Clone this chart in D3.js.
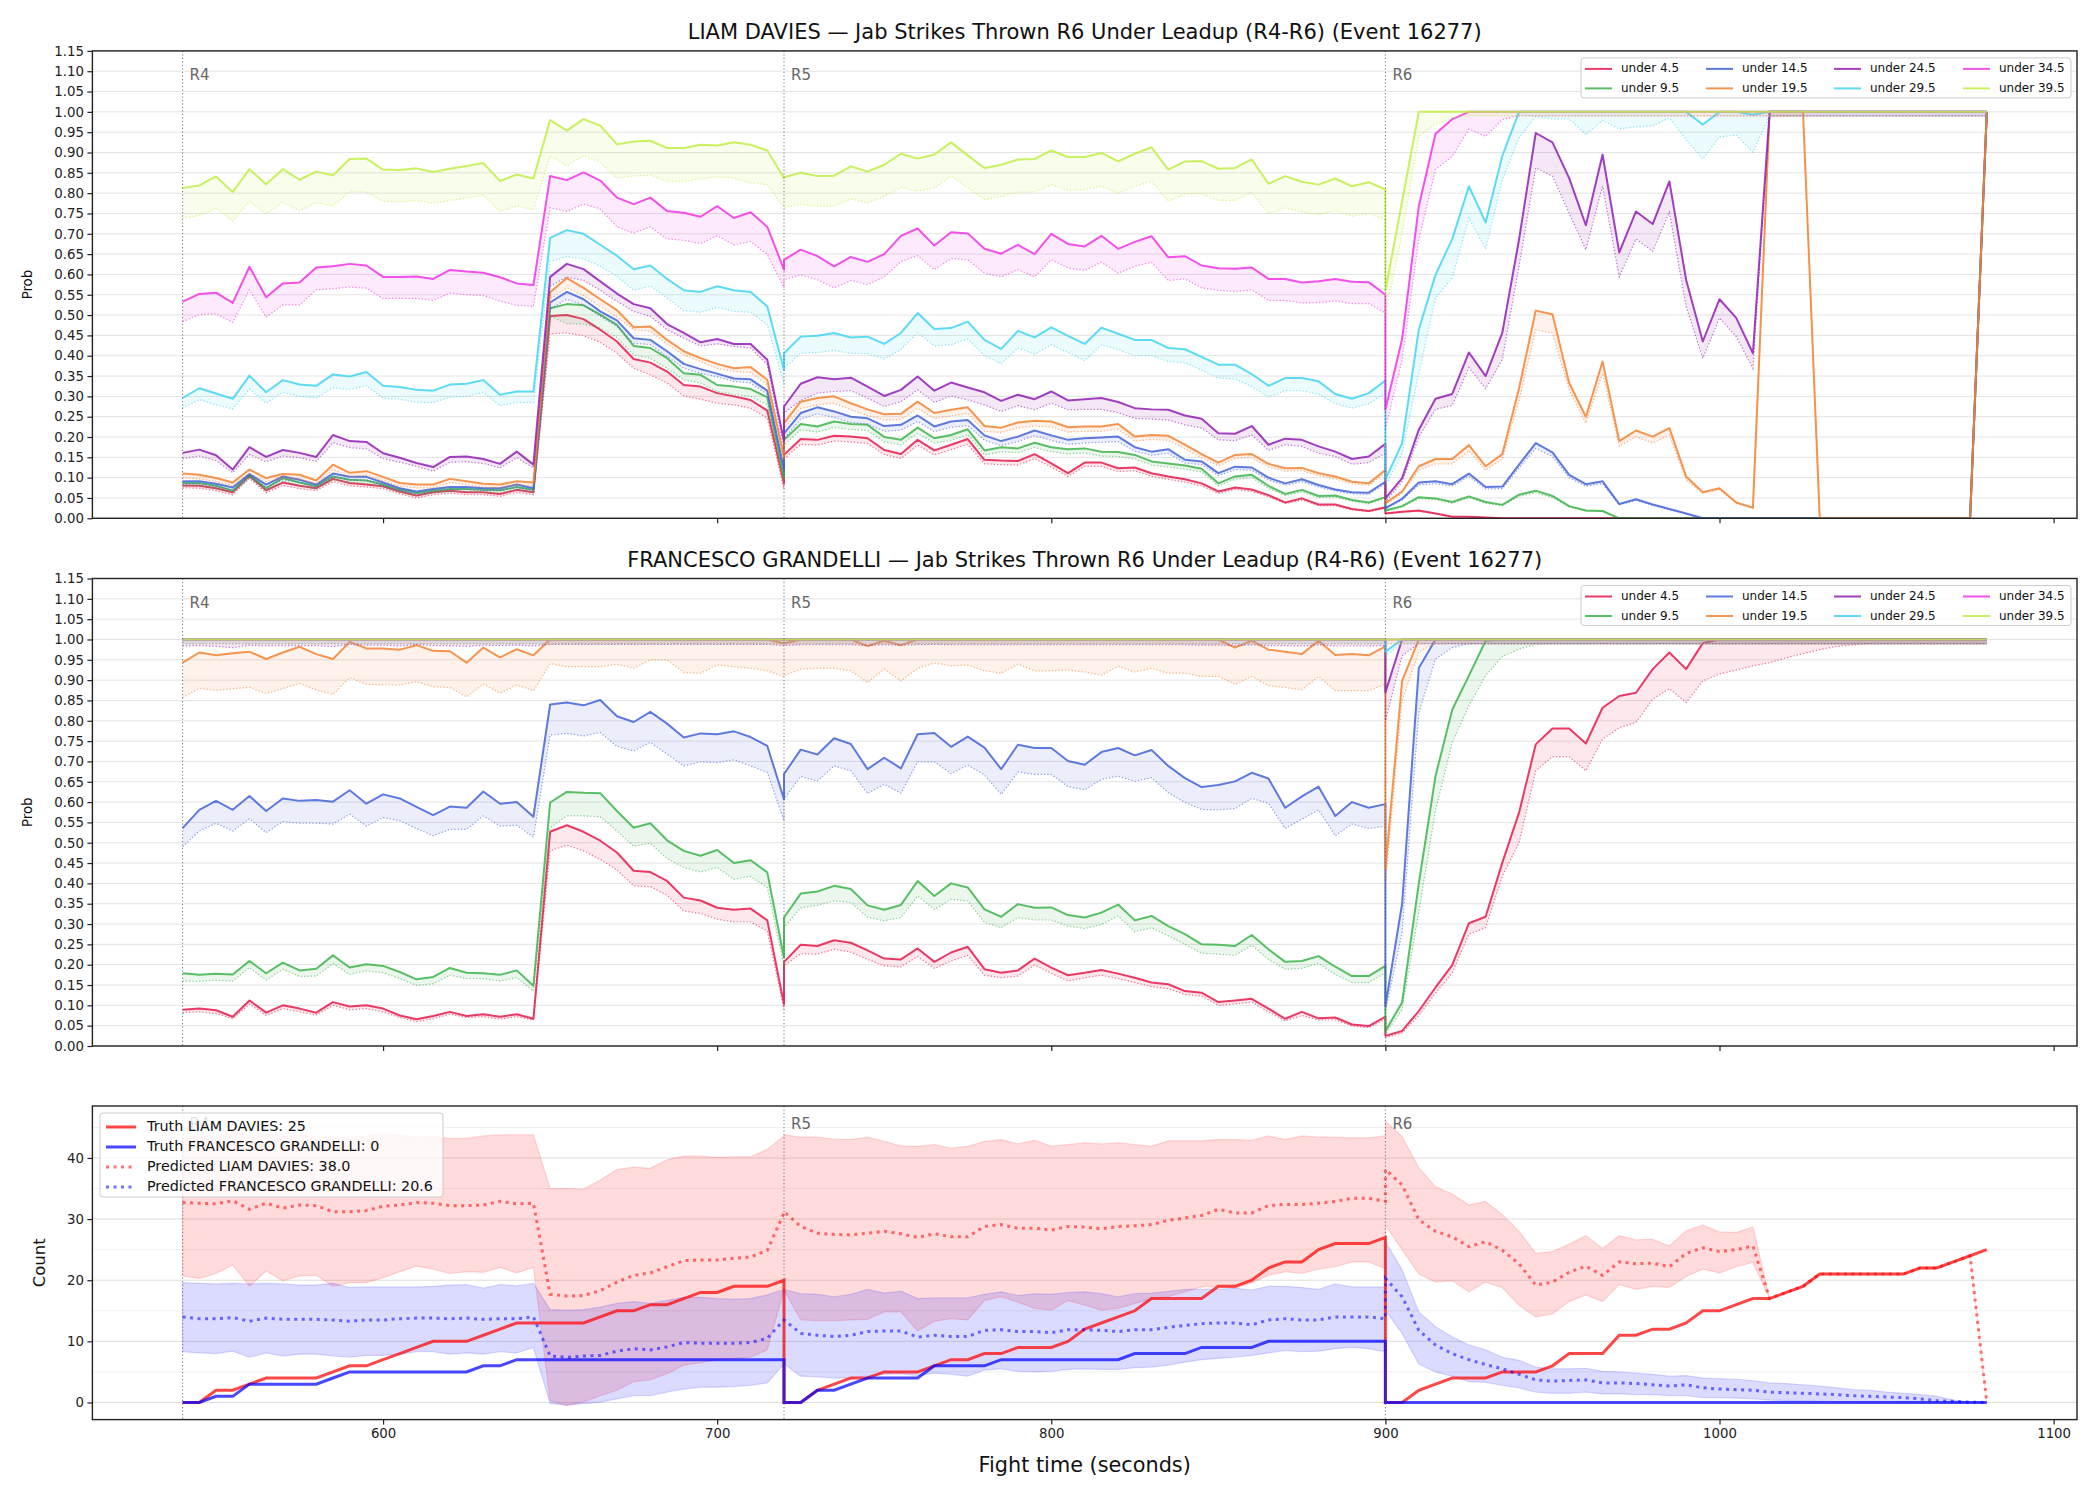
<!DOCTYPE html>
<html>
<head>
<meta charset="utf-8">
<script src="https://cdn.jsdelivr.net/npm/d3@7"></script>
<style>
  body { margin: 0; background: #fff; }
  svg text { font-family: "DejaVu Sans", sans-serif; }
</style>
</head>
<body>
<div id="wrapper"></div>
<script>
// ---- sample times: three rounds, every 5 s (round boundaries appear twice)
const times = [].concat(d3.range(540, 721, 5), d3.range(720, 901, 5), d3.range(900, 1081, 5));
const roundStarts = [540, 720, 900];
const roundLabels = ["R4", "R5", "R6"];
const thresholds = ["under 4.5", "under 9.5", "under 14.5", "under 19.5", "under 24.5", "under 29.5", "under 34.5", "under 39.5"];
const seriesColors = ["#e6194b", "#3cb44b", "#4363d8", "#f58231", "#911eb4", "#42d4f4", "#f032e6", "#bfef45"];
const probTicks = [0, 0.05, 0.1, 0.15, 0.2, 0.25, 0.3, 0.35, 0.4, 0.45, 0.5, 0.55, 0.6, 0.65, 0.7, 0.75, 0.8, 0.85, 0.9, 0.95, 1, 1.05, 1.1, 1.15];
const countTicks = [0, 10, 20, 30, 40];
const countMinorTicks = [5, 15, 25, 35, 45];
const timeTicks = [600, 700, 800, 900, 1000, 1100];

// ---- LIAM DAVIES: probability (solid) and lower estimate (dotted)
const daviesU4 = [
  0.081,0.080,0.074,0.064,0.105,0.069,0.088,0.080,0.074,0.097, 0.087,0.083,0.079,0.066,0.056,0.064,0.068,0.064,0.064,0.060,
  0.070,0.064,0.498,0.500,0.490,0.464,0.435,0.392,0.383,0.361, 0.328,0.324,0.308,0.300,0.291,0.265,0.086,
  0.156,0.195,0.193,0.203,0.201,0.197,0.168,0.158,0.193,0.167, 0.181,0.195,0.144,0.142,0.141,0.158,0.135,0.111,0.137,0.137,
  0.123,0.125,0.111,0.103,0.096,0.086,0.066,0.076,0.071,0.057, 0.039,0.049,0.034,0.034,0.023,0.018,0.027,
  0.012,0.016,0.019,0.012,0.004,0.004,0.002,0,0,0, 0,0,0,0,0,0,0,0,0,0, 0,0,0,0,0,0,0,0,0,0, 0,0,0,0,0,0,1];
const daviesU4Lo = [
  0.075,0.074,0.068,0.058,0.098,0.063,0.081,0.073,0.068,0.090, 0.080,0.077,0.073,0.060,0.050,0.058,0.062,0.058,0.058,0.054,
  0.064,0.058,0.454,0.456,0.449,0.433,0.406,0.369,0.353,0.333, 0.301,0.293,0.283,0.279,0.271,0.246,0.072,
  0.146,0.182,0.180,0.190,0.188,0.184,0.157,0.147,0.180,0.156, 0.169,0.182,0.134,0.132,0.131,0.147,0.126,0.103,0.128,0.128,
  0.115,0.117,0.103,0.096,0.089,0.080,0.061,0.071,0.066,0.053, 0.036,0.045,0.031,0.031,0.021,0.016,0.025,
  0.011,0.015,0.017,0.011,0.004,0.003,0.002,0,0,0, 0,0,0,0,0,0,0,0,0,0, 0,0,0,0,0,0,0,0,0,0, 0,0,0,0,0,0,0.99];
const daviesU9 = [
  0.087,0.087,0.080,0.068,0.107,0.074,0.099,0.088,0.079,0.103, 0.095,0.093,0.083,0.070,0.062,0.068,0.072,0.072,0.070,0.069,
  0.077,0.070,0.517,0.527,0.524,0.501,0.476,0.424,0.419,0.394, 0.357,0.353,0.328,0.324,0.318,0.298,0.100,
  0.193,0.232,0.226,0.238,0.232,0.230,0.200,0.193,0.223,0.197, 0.205,0.219,0.167,0.175,0.172,0.186,0.175,0.170,0.172,0.164,
  0.163,0.156,0.140,0.135,0.130,0.122,0.086,0.103,0.107,0.080, 0.060,0.070,0.055,0.056,0.045,0.039,0.052,
  0.019,0.030,0.052,0.049,0.040,0.054,0.040,0.033,0.058,0.068, 0.055,0.030,0.019,0.018,0,0,0,0,0,0, 0,0,0,0,0,0,0,0,0,0, 0,0,0,0,0,0,1];
const daviesU9Lo = [
  0.080,0.080,0.073,0.062,0.099,0.068,0.091,0.081,0.072,0.095, 0.088,0.086,0.077,0.064,0.056,0.062,0.066,0.066,0.064,0.063,
  0.071,0.064,0.497,0.479,0.478,0.468,0.445,0.402,0.394,0.369, 0.341,0.333,0.312,0.304,0.300,0.279,0.090,
  0.180,0.218,0.212,0.224,0.218,0.216,0.188,0.181,0.209,0.185, 0.192,0.206,0.156,0.164,0.161,0.174,0.164,0.159,0.161,0.153,
  0.152,0.146,0.131,0.126,0.121,0.114,0.080,0.096,0.100,0.074, 0.056,0.065,0.051,0.052,0.042,0.036,0.048,
  0.017,0.028,0.048,0.046,0.037,0.050,0.037,0.031,0.054,0.063, 0.051,0.028,0.018,0.017,0,0,0,0,0,0, 0,0,0,0,0,0,0,0,0,0, 0,0,0,0,0,0,0.99];
const daviesU14 = [
  0.091,0.091,0.085,0.076,0.109,0.083,0.103,0.095,0.083,0.110, 0.102,0.102,0.088,0.074,0.066,0.072,0.077,0.077,0.074,0.074,
  0.083,0.074,0.531,0.557,0.539,0.509,0.487,0.443,0.439,0.411, 0.380,0.367,0.356,0.344,0.342,0.314,0.120,
  0.209,0.259,0.273,0.263,0.250,0.246,0.227,0.230,0.253,0.226, 0.238,0.242,0.204,0.190,0.201,0.216,0.204,0.193,0.197,0.199,
  0.201,0.175,0.164,0.170,0.144,0.140,0.111,0.127,0.125,0.100, 0.086,0.096,0.082,0.071,0.064,0.063,0.090,
  0.025,0.048,0.088,0.091,0.084,0.110,0.077,0.078,0.132,0.185, 0.162,0.107,0.084,0.091,0.035,0.047,0.034,0.023,0.012,0, 0,0,0,0,0,0,0,0,0,0, 0,0,0,0,0,0,1];
const daviesU14Lo = [
  0.084,0.084,0.078,0.069,0.101,0.076,0.095,0.088,0.076,0.102, 0.094,0.094,0.081,0.068,0.060,0.066,0.071,0.071,0.068,0.068,
  0.076,0.068,0.515,0.539,0.525,0.497,0.472,0.431,0.427,0.398, 0.369,0.357,0.348,0.337,0.333,0.305,0.110,
  0.196,0.244,0.257,0.248,0.236,0.232,0.214,0.217,0.238,0.213, 0.224,0.228,0.192,0.179,0.189,0.203,0.192,0.182,0.185,0.187,
  0.189,0.165,0.155,0.160,0.136,0.132,0.105,0.120,0.118,0.094, 0.081,0.090,0.077,0.067,0.060,0.059,0.085,
  0.023,0.045,0.082,0.085,0.079,0.103,0.072,0.073,0.124,0.172, 0.152,0.100,0.079,0.085,0.033,0.044,0.032,0.021,0.011,0, 0,0,0,0,0,0,0,0,0,0, 0,0,0,0,0,0,0.99];
const daviesU19 = [
  0.110,0.107,0.099,0.088,0.120,0.099,0.109,0.107,0.093,0.132, 0.112,0.116,0.102,0.087,0.083,0.083,0.097,0.091,0.085,0.083,
  0.091,0.088,0.556,0.591,0.567,0.539,0.512,0.470,0.472,0.439, 0.411,0.394,0.380,0.369,0.372,0.341,0.150,
  0.234,0.287,0.296,0.300,0.283,0.268,0.256,0.257,0.287,0.259, 0.267,0.273,0.227,0.223,0.236,0.240,0.238,0.224,0.226,0.226,
  0.232,0.201,0.205,0.203,0.181,0.158,0.137,0.156,0.158,0.134, 0.123,0.124,0.111,0.103,0.090,0.086,0.119,
  0.037,0.066,0.128,0.146,0.146,0.180,0.128,0.158,0.320,0.511, 0.502,0.333,0.250,0.386,0.190,0.216,0.201,0.222,0.103,0.064,
  0.074,0.039,0.026,1,1,1,0,0,0,0, 0,0,0,0,0,0,1];
const daviesU19Lo = [
  0.100,0.097,0.090,0.080,0.110,0.090,0.099,0.097,0.084,0.120, 0.102,0.106,0.093,0.079,0.075,0.075,0.088,0.083,0.077,0.075,
  0.083,0.080,0.539,0.567,0.548,0.521,0.495,0.464,0.460,0.429, 0.402,0.386,0.369,0.361,0.359,0.328,0.140,
  0.220,0.270,0.279,0.283,0.267,0.253,0.242,0.243,0.271,0.245, 0.252,0.258,0.214,0.211,0.223,0.227,0.225,0.212,0.214,0.214,
  0.219,0.190,0.194,0.192,0.171,0.149,0.129,0.147,0.149,0.126, 0.116,0.117,0.105,0.097,0.085,0.081,0.112,
  0.034,0.061,0.118,0.134,0.134,0.166,0.118,0.146,0.290,0.464, 0.456,0.316,0.234,0.357,0.177,0.201,0.185,0.205,0.094,0.062,
  0.070,0.037,0.025,0.99,0.99,0.99,0,0,0,0, 0,0,0,0,0,0,0.99];
const daviesU24 = [
  0.161,0.169,0.155,0.120,0.175,0.151,0.168,0.161,0.151,0.205, 0.190,0.188,0.160,0.149,0.136,0.126,0.151,0.152,0.146,0.134,
  0.164,0.132,0.594,0.626,0.613,0.583,0.553,0.527,0.517,0.478, 0.456,0.433,0.441,0.429,0.429,0.390,0.190,
  0.275,0.331,0.347,0.342,0.346,0.324,0.301,0.316,0.349,0.314, 0.334,0.322,0.310,0.289,0.304,0.293,0.312,0.290,0.293,0.296,
  0.286,0.271,0.268,0.267,0.253,0.245,0.209,0.208,0.227,0.181, 0.196,0.193,0.177,0.164,0.146,0.152,0.183,
  0.049,0.099,0.218,0.294,0.306,0.408,0.350,0.457,0.686,0.948, 0.925,0.837,0.721,0.895,0.654,0.755,0.724,0.829,0.587,0.435,
  0.539,0.493,0.406,1,1,1,1,1,1,1, 1,1,1,1,1,1,1];
const daviesU24Lo = [
  0.147,0.153,0.142,0.112,0.157,0.139,0.153,0.149,0.140,0.186, 0.174,0.171,0.147,0.138,0.128,0.116,0.138,0.139,0.135,0.124,
  0.149,0.124,0.571,0.594,0.585,0.561,0.534,0.509,0.497,0.464, 0.443,0.424,0.429,0.423,0.419,0.378,0.170,
  0.259,0.290,0.308,0.312,0.314,0.296,0.275,0.287,0.316,0.285, 0.301,0.291,0.279,0.263,0.277,0.267,0.283,0.267,0.268,0.268,
  0.260,0.246,0.244,0.242,0.230,0.222,0.193,0.191,0.205,0.167, 0.181,0.177,0.160,0.152,0.133,0.137,0.160,
  0.040,0.090,0.200,0.268,0.278,0.371,0.319,0.391,0.620,0.862, 0.842,0.751,0.661,0.817,0.594,0.687,0.657,0.753,0.521,0.394,
  0.493,0.447,0.369,0.99,0.99,0.99,0.99,0.99,0.99,0.99, 0.99,0.99,0.99,0.99,0.99,0.99,0.99];
const daviesU29 = [
  0.296,0.320,0.307,0.294,0.351,0.310,0.340,0.329,0.326,0.354, 0.349,0.360,0.326,0.323,0.316,0.314,0.329,0.331,0.340,0.304,
  0.312,0.312,0.690,0.709,0.700,0.673,0.646,0.613,0.622,0.589, 0.561,0.557,0.571,0.561,0.557,0.521,0.365,
  0.406,0.447,0.449,0.456,0.445,0.447,0.429,0.456,0.505,0.466, 0.468,0.484,0.439,0.417,0.461,0.445,0.470,0.449,0.429,0.469,
  0.454,0.439,0.439,0.419,0.416,0.397,0.378,0.378,0.355,0.326, 0.345,0.345,0.337,0.306,0.294,0.308,0.339,
  0.095,0.185,0.465,0.599,0.687,0.817,0.728,0.892,1,1, 1,1,1,1,1,1,1,1,1,0.969,
  1,1,0.993,1,1,1,1,1,1,1, 1,1,1,1,1,1,1];
const daviesU29Lo = [
  0.271,0.292,0.279,0.269,0.318,0.283,0.310,0.300,0.296,0.321, 0.317,0.326,0.296,0.293,0.285,0.285,0.298,0.300,0.310,0.277,
  0.285,0.285,0.632,0.644,0.638,0.620,0.595,0.561,0.571,0.542, 0.511,0.507,0.519,0.509,0.507,0.476,0.330,
  0.369,0.406,0.408,0.413,0.406,0.405,0.392,0.415,0.457,0.424, 0.427,0.441,0.400,0.380,0.419,0.404,0.427,0.408,0.388,0.427,
  0.415,0.400,0.400,0.386,0.383,0.365,0.345,0.343,0.324,0.298, 0.314,0.314,0.305,0.282,0.271,0.282,0.308,
  0.080,0.160,0.357,0.542,0.591,0.739,0.663,0.833,0.936,0.988, 0.983,0.983,0.944,0.979,0.958,0.963,0.966,0.985,0.932,0.884,
  0.938,0.943,0.901,0.991,0.99,0.99,0.99,0.99,0.99,0.99, 0.99,0.99,0.99,0.99,0.99,0.99,0.99];
const daviesU34 = [
  0.533,0.552,0.555,0.530,0.619,0.544,0.578,0.580,0.617,0.620, 0.626,0.622,0.594,0.594,0.595,0.589,0.611,0.607,0.604,0.593,
  0.578,0.574,0.842,0.832,0.851,0.831,0.789,0.773,0.789,0.756, 0.752,0.742,0.768,0.739,0.753,0.717,0.612,
  0.636,0.661,0.645,0.620,0.643,0.631,0.650,0.695,0.713,0.671, 0.704,0.701,0.663,0.651,0.673,0.650,0.700,0.675,0.669,0.695,
  0.663,0.680,0.694,0.642,0.645,0.622,0.615,0.614,0.617,0.589, 0.589,0.580,0.583,0.589,0.582,0.581,0.550,
  0.268,0.441,0.768,0.946,0.982,1,1,1,1,1, 1,1,1,1,1,1,1,1,1,1, 1,1,1,1,1,1,1,1,1,1, 1,1,1,1,1,1,1];
const daviesU34Lo = [
  0.484,0.501,0.503,0.482,0.562,0.495,0.525,0.525,0.562,0.565, 0.569,0.566,0.541,0.541,0.541,0.536,0.554,0.550,0.548,0.534,
  0.524,0.521,0.764,0.755,0.773,0.761,0.717,0.702,0.717,0.687, 0.684,0.676,0.695,0.673,0.681,0.649,0.567,
  0.587,0.599,0.587,0.567,0.585,0.575,0.594,0.632,0.646,0.612, 0.639,0.636,0.603,0.594,0.612,0.594,0.636,0.616,0.610,0.630,
  0.603,0.620,0.630,0.585,0.589,0.567,0.561,0.558,0.562,0.536, 0.536,0.530,0.531,0.535,0.528,0.528,0.505,
  0.220,0.390,0.686,0.858,0.891,0.957,0.940,0.981,0.991,0.99, 0.99,0.99,0.99,0.99,0.99,0.99,0.99,0.99,0.99,0.99,
  0.99,0.99,0.99,0.99,0.99,0.99,0.99,0.99,0.99,0.99, 0.99,0.99,0.99,0.99,0.99,0.99,0.99];
const daviesU39 = [
  0.813,0.819,0.841,0.803,0.859,0.822,0.859,0.833,0.853,0.844, 0.884,0.885,0.858,0.857,0.861,0.852,0.860,0.867,0.874,0.830,
  0.846,0.836,0.980,0.954,0.982,0.966,0.920,0.927,0.929,0.911, 0.911,0.919,0.917,0.925,0.919,0.905,0.837,
  0.839,0.850,0.842,0.843,0.866,0.853,0.870,0.897,0.885,0.895, 0.925,0.893,0.862,0.870,0.883,0.884,0.905,0.889,0.889,0.899,
  0.878,0.897,0.913,0.858,0.878,0.879,0.860,0.862,0.883,0.823, 0.842,0.828,0.821,0.836,0.817,0.827,0.809,
  0.56,0.78,1,1,1,1,1,1,1,1, 1,1,1,1,1,1,1,1,1,1, 1,1,1,1,1,1,1,1,1,1, 1,1,1,1,1,1,1];
const daviesU39Lo = [
  0.739,0.745,0.763,0.731,0.780,0.749,0.778,0.756,0.777,0.768, 0.803,0.803,0.780,0.779,0.782,0.775,0.782,0.788,0.795,0.755,
  0.769,0.759,0.891,0.868,0.892,0.876,0.837,0.842,0.844,0.829, 0.829,0.835,0.840,0.837,0.825,0.821,0.764,
  0.764,0.773,0.768,0.768,0.786,0.776,0.792,0.814,0.805,0.813, 0.842,0.813,0.784,0.792,0.802,0.803,0.821,0.807,0.809,0.817,
  0.800,0.817,0.829,0.780,0.798,0.799,0.782,0.782,0.802,0.750, 0.764,0.754,0.747,0.758,0.743,0.750,0.735,
  0.50,0.70,0.94,0.97,0.985,0.99,0.99,0.99,0.99,0.99, 0.99,0.99,0.99,0.99,0.99,0.99,0.99,0.99,0.99,0.99,
  0.99,0.99,0.99,0.99,0.99,0.99,0.99,0.99,0.99,0.99, 0.99,0.99,0.99,0.99,0.99,0.99,0.99];

// ---- FRANCESCO GRANDELLI
const grandelliU4 = [
  0.089,0.092,0.088,0.072,0.112,0.082,0.100,0.092,0.082,0.108, 0.097,0.100,0.092,0.075,0.066,0.074,0.084,0.074,0.078,0.072,
  0.078,0.067,0.527,0.543,0.527,0.505,0.476,0.431,0.428,0.406, 0.365,0.358,0.340,0.335,0.338,0.309,0.103,
  0.207,0.249,0.246,0.260,0.254,0.235,0.215,0.213,0.240,0.207, 0.230,0.244,0.189,0.180,0.186,0.215,0.193,0.174,0.180,0.187,
  0.178,0.168,0.156,0.152,0.135,0.131,0.108,0.112,0.116,0.092, 0.067,0.084,0.068,0.070,0.053,0.049,0.072,
  0.025,0.037,0.086,0.144,0.199,0.302,0.318,0.451,0.574,0.742, 0.781,0.781,0.744,0.832,0.861,0.869,0.927,0.968,0.927,0.991,
  1,1,1,1,1,1,1,1,1,1, 1,1,1,1,1,1,1];
const grandelliU4Lo = [
  0.082,0.084,0.080,0.067,0.103,0.075,0.092,0.084,0.076,0.100, 0.089,0.092,0.084,0.070,0.060,0.067,0.078,0.070,0.072,0.066,
  0.072,0.064,0.480,0.494,0.480,0.459,0.433,0.394,0.392,0.371, 0.332,0.326,0.312,0.305,0.305,0.283,0.090,
  0.197,0.227,0.226,0.238,0.231,0.213,0.197,0.195,0.220,0.191, 0.209,0.223,0.174,0.168,0.172,0.199,0.179,0.160,0.168,0.174,
  0.166,0.156,0.146,0.141,0.127,0.123,0.100,0.104,0.108,0.084, 0.062,0.075,0.064,0.064,0.049,0.045,0.066,
  0.020,0.032,0.075,0.130,0.180,0.275,0.291,0.418,0.500,0.677, 0.712,0.712,0.677,0.755,0.783,0.796,0.853,0.879,0.845,0.898,
  0.915,0.925,0.935,0.943,0.955,0.965,0.975,0.983,0.987,0.99, 0.99,0.99,0.99,0.99,0.99,0.99,0.99];
const grandelliU9 = [
  0.179,0.175,0.178,0.176,0.209,0.179,0.205,0.186,0.190,0.223, 0.193,0.201,0.197,0.182,0.164,0.170,0.192,0.180,0.179,0.175,
  0.186,0.148,0.599,0.625,0.623,0.622,0.578,0.537,0.548,0.506, 0.480,0.468,0.482,0.450,0.457,0.427,0.217,
  0.316,0.375,0.380,0.394,0.386,0.346,0.335,0.347,0.406,0.369, 0.400,0.390,0.336,0.318,0.349,0.340,0.341,0.322,0.316,0.328,
  0.348,0.309,0.320,0.295,0.275,0.250,0.249,0.246,0.273,0.238, 0.207,0.209,0.221,0.195,0.172,0.172,0.197,
  0.037,0.107,0.400,0.664,0.827,0.911,0.997,1,1,1, 1,1,1,1,1,1,1,1,1,1, 1,1,1,1,1,1,1,1,1,1, 1,1,1,1,1,1,1];
const grandelliU9Lo = [
  0.160,0.159,0.162,0.160,0.193,0.162,0.189,0.171,0.172,0.203, 0.176,0.185,0.180,0.166,0.149,0.153,0.174,0.166,0.166,0.160,
  0.168,0.135,0.537,0.566,0.566,0.564,0.529,0.491,0.499,0.461, 0.439,0.428,0.439,0.410,0.417,0.390,0.197,
  0.291,0.340,0.346,0.357,0.353,0.317,0.308,0.316,0.369,0.336, 0.361,0.357,0.304,0.291,0.316,0.310,0.310,0.295,0.289,0.299,
  0.320,0.281,0.291,0.271,0.250,0.228,0.226,0.223,0.248,0.213, 0.189,0.191,0.203,0.176,0.156,0.156,0.180,
  0.030,0.090,0.330,0.580,0.746,0.837,0.911,0.958,0.976,0.989, 0.99,0.99,0.99,0.99,0.99,0.99,0.99,0.99,0.99,0.99,
  0.99,0.99,0.99,0.99,0.99,0.99,0.99,0.99,0.99,0.99, 0.99,0.99,0.99,0.99,0.99,0.99,0.99];
const grandelliU14 = [
  0.536,0.581,0.603,0.581,0.615,0.578,0.609,0.603,0.605,0.601, 0.629,0.596,0.619,0.609,0.588,0.568,0.589,0.586,0.626,0.596,
  0.600,0.564,0.840,0.845,0.838,0.851,0.811,0.797,0.822,0.793, 0.759,0.769,0.767,0.774,0.760,0.738,0.607,
  0.669,0.729,0.717,0.757,0.743,0.681,0.709,0.683,0.767,0.770, 0.736,0.761,0.734,0.681,0.741,0.733,0.733,0.701,0.692,0.723,
  0.733,0.715,0.728,0.689,0.659,0.637,0.642,0.651,0.672,0.658, 0.586,0.614,0.638,0.566,0.600,0.586,0.595,
  0.098,0.350,0.930,1,1,1,1,1,1,1, 1,1,1,1,1,1,1,1,1,1, 1,1,1,1,1,1,1,1,1,1, 1,1,1,1,1,1,1];
const grandelliU14Lo = [
  0.490,0.529,0.548,0.529,0.559,0.525,0.552,0.548,0.548,0.546, 0.570,0.541,0.562,0.554,0.535,0.517,0.533,0.533,0.566,0.541,
  0.543,0.514,0.765,0.769,0.763,0.771,0.737,0.726,0.747,0.718, 0.689,0.699,0.697,0.704,0.689,0.673,0.554,
  0.607,0.663,0.652,0.689,0.677,0.621,0.644,0.622,0.699,0.699, 0.670,0.691,0.667,0.619,0.674,0.668,0.668,0.638,0.630,0.656,
  0.664,0.651,0.660,0.623,0.599,0.582,0.581,0.584,0.609,0.597, 0.535,0.558,0.581,0.517,0.546,0.535,0.541,
  0.085,0.280,0.820,0.952,0.980,0.99,0.99,0.99,0.99,0.99, 0.99,0.99,0.99,0.99,0.99,0.99,0.99,0.99,0.99,0.99,
  0.99,0.99,0.99,0.99,0.99,0.99,0.99,0.99,0.99,0.99, 0.99,0.99,0.99,0.99,0.99,0.99,0.99];
const grandelliU19 = [
  0.943,0.968,0.961,0.966,0.970,0.952,0.968,0.982,0.964,0.952, 0.994,0.978,0.978,0.975,0.986,0.972,0.971,0.943,0.980,0.956,
  0.976,0.961,1,1,1,1,1,1,1,1, 1,1,1,1,1,1,0.990,
  0.990,1,1,1,1,0.984,0.997,0.986,1,1, 1,1,1,1,1,1,1,1,1,1,
  1,1,1,1,1,1,1,0.980,0.997,0.975, 0.970,0.964,0.997,0.962,0.964,0.961,0.983,
  0.435,0.898,1,1,1,1,1,1,1,1, 1,1,1,1,1,1,1,1,1,1, 1,1,1,1,1,1,1,1,1,1, 1,1,1,1,1,1,1];
const grandelliU19Lo = [
  0.857,0.880,0.875,0.879,0.882,0.867,0.879,0.892,0.876,0.865, 0.906,0.890,0.888,0.888,0.896,0.884,0.882,0.859,0.890,0.868,
  0.888,0.874,0.941,0.933,0.933,0.933,0.939,0.929,0.950,0.950, 0.919,0.917,0.937,0.933,0.929,0.923,0.909,
  0.911,0.927,0.929,0.929,0.923,0.894,0.927,0.898,0.929,0.942, 0.935,0.937,0.923,0.917,0.939,0.923,0.923,0.925,0.920,0.912,
  0.934,0.920,0.929,0.917,0.917,0.909,0.909,0.890,0.909,0.886, 0.882,0.876,0.909,0.874,0.874,0.874,0.890,
  0.400,0.850,0.970,0.99,0.99,0.99,0.99,0.99,0.99,0.99, 0.99,0.99,0.99,0.99,0.99,0.99,0.99,0.99,0.99,0.99,
  0.99,0.99,0.99,0.99,0.99,0.99,0.99,0.99,0.99,0.99, 0.99,0.99,0.99,0.99,0.99,0.99,0.99];
const grandelliU24 = [
  1,1,1,1,1,1,1,1,1,1, 1,1,1,1,1,1,1,1,1,1, 1,1,1,1,1,1,1,1,1,1, 1,1,1,1,1,1,1,
  1,1,1,1,1,1,1,1,1,1, 1,1,1,1,1,1,1,1,1,1, 1,1,1,1,1,1,1,1,1,1, 1,1,1,1,1,1,1,
  0.870,1,1,1,1,1,1,1,1,1, 1,1,1,1,1,1,1,1,1,1, 1,1,1,1,1,1,1,1,1,1, 1,1,1,1,1,1,1];
const grandelliU24Lo = [
  0.984,0.985,0.983,0.980,0.986,0.984,0.985,0.985,0.985,0.982, 0.988,0.986,0.986,0.984,0.988,0.985,0.985,0.983,0.986,0.985,
  0.986,0.984,0.988,0.988,0.988,0.988,0.988,0.988,0.988,0.988, 0.988,0.988,0.988,0.988,0.988,0.988,0.985,
  0.985,0.987,0.987,0.987,0.987,0.985,0.987,0.986,0.987,0.988, 0.987,0.987,0.987,0.987,0.987,0.987,0.987,0.987,0.987,0.987,
  0.987,0.987,0.987,0.987,0.987,0.986,0.986,0.985,0.987,0.985, 0.985,0.984,0.987,0.984,0.984,0.984,0.985,
  0.800,0.960,0.99,0.99,0.99,0.99,0.99,0.99,0.99,0.99, 0.99,0.99,0.99,0.99,0.99,0.99,0.99,0.99,0.99,0.99,
  0.99,0.99,0.99,0.99,0.99,0.99,0.99,0.99,0.99,0.99, 0.99,0.99,0.99,0.99,0.99,0.99,0.99];
const grandelliU29 = [
  1,1,1,1,1,1,1,1,1,1, 1,1,1,1,1,1,1,1,1,1, 1,1,1,1,1,1,1,1,1,1, 1,1,1,1,1,1,1,
  1,1,1,1,1,1,1,1,1,1, 1,1,1,1,1,1,1,1,1,1, 1,1,1,1,1,1,1,1,1,1, 1,1,1,1,1,1,1,
  0.970,1,1,1,1,1,1,1,1,1, 1,1,1,1,1,1,1,1,1,1, 1,1,1,1,1,1,1,1,1,1, 1,1,1,1,1,1,1];
const grandelliU29Lo = [
  0.99,0.99,0.99,0.99,0.99,0.99,0.99,0.99,0.99,0.99, 0.99,0.99,0.99,0.99,0.99,0.99,0.99,0.99,0.99,0.99,
  0.99,0.99,0.99,0.99,0.99,0.99,0.99,0.99,0.99,0.99, 0.99,0.99,0.99,0.99,0.99,0.99,0.99,
  0.99,0.99,0.99,0.99,0.99,0.99,0.99,0.99,0.99,0.99, 0.99,0.99,0.99,0.99,0.99,0.99,0.99,0.99,0.99,0.99,
  0.99,0.99,0.99,0.99,0.99,0.99,0.99,0.99,0.99,0.99, 0.99,0.99,0.99,0.99,0.99,0.99,0.99,
  0.960,0.99,0.99,0.99,0.99,0.99,0.99,0.99,0.99,0.99, 0.99,0.99,0.99,0.99,0.99,0.99,0.99,0.99,0.99,0.99,
  0.99,0.99,0.99,0.99,0.99,0.99,0.99,0.99,0.99,0.99, 0.99,0.99,0.99,0.99,0.99,0.99,0.99];
const grandelliU34 = [
  1,1,1,1,1,1,1,1,1,1, 1,1,1,1,1,1,1,1,1,1, 1,1,1,1,1,1,1,1,1,1, 1,1,1,1,1,1,1,
  1,1,1,1,1,1,1,1,1,1, 1,1,1,1,1,1,1,1,1,1, 1,1,1,1,1,1,1,1,1,1, 1,1,1,1,1,1,1,
  1,1,1,1,1,1,1,1,1,1, 1,1,1,1,1,1,1,1,1,1, 1,1,1,1,1,1,1,1,1,1, 1,1,1,1,1,1,1];
const grandelliU34Lo = [
  0.99,0.99,0.99,0.99,0.99,0.99,0.99,0.99,0.99,0.99, 0.99,0.99,0.99,0.99,0.99,0.99,0.99,0.99,0.99,0.99,
  0.99,0.99,0.99,0.99,0.99,0.99,0.99,0.99,0.99,0.99, 0.99,0.99,0.99,0.99,0.99,0.99,0.99,
  0.99,0.99,0.99,0.99,0.99,0.99,0.99,0.99,0.99,0.99, 0.99,0.99,0.99,0.99,0.99,0.99,0.99,0.99,0.99,0.99,
  0.99,0.99,0.99,0.99,0.99,0.99,0.99,0.99,0.99,0.99, 0.99,0.99,0.99,0.99,0.99,0.99,0.99,
  0.99,0.99,0.99,0.99,0.99,0.99,0.99,0.99,0.99,0.99, 0.99,0.99,0.99,0.99,0.99,0.99,0.99,0.99,0.99,0.99,
  0.99,0.99,0.99,0.99,0.99,0.99,0.99,0.99,0.99,0.99, 0.99,0.99,0.99,0.99,0.99,0.99,0.99];
const grandelliU39 = [
  1,1,1,1,1,1,1,1,1,1, 1,1,1,1,1,1,1,1,1,1, 1,1,1,1,1,1,1,1,1,1, 1,1,1,1,1,1,1,
  1,1,1,1,1,1,1,1,1,1, 1,1,1,1,1,1,1,1,1,1, 1,1,1,1,1,1,1,1,1,1, 1,1,1,1,1,1,1,
  1,1,1,1,1,1,1,1,1,1, 1,1,1,1,1,1,1,1,1,1, 1,1,1,1,1,1,1,1,1,1, 1,1,1,1,1,1,1];
const grandelliU39Lo = [
  0.99,0.99,0.99,0.99,0.99,0.99,0.99,0.99,0.99,0.99, 0.99,0.99,0.99,0.99,0.99,0.99,0.99,0.99,0.99,0.99,
  0.99,0.99,0.99,0.99,0.99,0.99,0.99,0.99,0.99,0.99, 0.99,0.99,0.99,0.99,0.99,0.99,0.99,
  0.99,0.99,0.99,0.99,0.99,0.99,0.99,0.99,0.99,0.99, 0.99,0.99,0.99,0.99,0.99,0.99,0.99,0.99,0.99,0.99,
  0.99,0.99,0.99,0.99,0.99,0.99,0.99,0.99,0.99,0.99, 0.99,0.99,0.99,0.99,0.99,0.99,0.99,
  0.99,0.99,0.99,0.99,0.99,0.99,0.99,0.99,0.99,0.99, 0.99,0.99,0.99,0.99,0.99,0.99,0.99,0.99,0.99,0.99,
  0.99,0.99,0.99,0.99,0.99,0.99,0.99,0.99,0.99,0.99, 0.99,0.99,0.99,0.99,0.99,0.99,0.99];

// ---- counts (bottom panel)
const truthDavies = [
  0,0,2,2,3,4,4,4,4,5, 6,6,7,8,9,10,10,10,11,12, 13,13,13,13,13,14,15,15,16,16, 17,18,18,19,19,19,20,
  0,0,2,3,4,4,5,5,5,6, 7,7,8,8,9,9,9,10,12,13, 14,15,17,17,17,17,19,19,20,22, 23,23,25,26,26,26,27,
  0,0,2,3,4,4,4,5,5,5, 6,8,8,8,11,11,12,12,13,15, 15,16,17,17,18,19,21,21,21,21, 21,21,22,22,23,24,25];
const truthGrandelli = [
  0,0,1,1,3,3,3,3,3,4, 5,5,5,5,5,5,5,5,6,6, 7,7,7,7,7,7,7,7,7,7, 7,7,7,7,7,7,7,
  0,0,2,2,3,4,4,4,4,6, 6,6,6,7,7,7,7,7,7,7, 7,8,8,8,8,9,9,9,9,10, 10,10,10,10,10,10,10,
  0,0,0,0,0,0,0,0,0,0, 0,0,0,0,0,0,0,0,0,0, 0,0,0,0,0,0,0,0,0,0, 0,0,0,0,0,0,0];
const predDavies = [
  32.7,32.6,32.5,33.0,31.6,32.6,31.8,32.3,32.2,31.2, 31.2,31.4,32.1,32.3,32.7,32.6,32.2,32.2,32.3,32.9,
  32.5,32.6,17.7,17.4,17.5,18.3,19.7,20.8,21.2,22.2, 23.2,23.3,23.3,23.6,23.8,24.9,31.0,
  31.2,28.8,27.7,27.5,27.4,27.7,28.0,27.6,27.0,27.6, 27.1,27.1,28.8,29.1,28.5,28.5,28.2,28.8,28.7,28.4,
  28.8,28.9,29.1,29.8,30.2,30.6,31.6,31.0,31.0,32.2, 32.4,32.4,32.6,32.9,33.4,33.4,32.9,
  38.1,35.6,29.9,28.0,27.1,25.5,26.3,24.9,22.7,19.2, 19.7,21.3,22.3,20.8,23.0,22.7,22.8,22.2,24.4,25.3,
  24.7,25.0,25.6,17,18,19,21,21,21,21, 21,21,22,22,23,24,0];
const predDaviesHi = [
  43.3,43.5,43.8,44.2,43.6,43.9,43.5,43.7,43.4,43.3, 43.2,43.6,43.9,43.7,43.4,43.5,43.2,43.2,43.6,43.8,
  43.8,43.8,35.0,35.0,34.9,36.4,38.1,38.5,38.3,39.7, 40.3,40.3,40.1,40.2,40.2,41.4,43.6,
  43.8,43.4,43.4,43.1,43.0,43.4,42.7,42.0,41.9,42.2, 41.6,41.9,42.7,43.0,42.3,42.9,41.9,42.2,42.5,42.3,
  42.5,42.2,41.9,42.8,42.8,42.8,43.0,43.0,42.9,43.6, 43.0,43.6,43.4,43.4,43.3,43.3,43.6,
  46.0,43.5,38.4,35.3,34.1,32.3,32.9,30.7,28.0,24.4, 24.7,25.9,27.3,25.2,27.3,26.6,26.7,25.6,28.1,29.0,
  27.9,27.8,28.7,17,18,19,21,21,21,21, 21,21,22,22,23,24,0];
const predDaviesLo = [
  20.7,20.3,21.1,22.5,19.0,21.5,19.9,20.7,20.8,19.0, 19.6,19.6,20.4,21.4,22.3,21.8,21.1,21.4,21.3,22.1,
  21.2,22.1,0.3,-0.5,0.1,1.1,2.0,3.4,3.7,4.7, 6.1,6.5,7.0,7.2,7.4,8.6,18.4,
  18.4,13.5,13.4,13.4,13.5,13.6,14.8,14.8,11.7,13.3, 13.7,13.5,16.7,17.3,16.4,15.4,15.1,16.7,15.9,15.1,
  15.4,16.2,16.9,17.3,18.1,18.9,19.0,18.7,19.6,20.8, 21.4,21.1,21.8,22.2,23.0,23.0,21.9,
  29.0,25.0,21.0,19.7,19.9,18.1,19.7,18.8,15.9,14.0, 14.5,16.5,17.6,16.5,19.3,18.5,19.0,18.8,20.6,21.8,
  21.2,22.2,22.9,17,18,19,21,21,21,21, 21,21,22,22,23,24,0];
const predGrandelli = [
  14.0,13.7,13.7,13.9,13.3,13.8,13.6,13.6,13.6,13.5, 13.3,13.5,13.5,13.7,13.8,13.8,13.7,13.8,13.6,13.7,
  13.7,14.0,7.6,7.4,7.6,7.7,8.4,8.8,8.6,9.1, 9.8,9.7,9.7,9.7,9.8,10.5,13.5,
  13.5,11.3,11.0,10.8,11.0,11.6,11.7,11.7,10.7,11.0, 10.8,10.8,11.8,11.9,11.6,11.6,11.4,11.9,11.9,11.8,
  11.6,11.9,11.9,12.3,12.6,12.9,13.0,13.0,12.7,13.5, 13.7,13.5,13.5,14.0,14.0,14.0,13.7,
  20.3,17.3,11.8,9.4,8.0,7.0,6.2,5.5,4.6,3.7, 3.5,3.6,3.7,3.2,3.2,3.1,2.9,2.7,2.9,2.4,
  2.2,2.1,2.0,1.7,1.6,1.5,1.4,1.3,1.1,1.0, 0.9,0.8,0.6,0.3,0.2,0.05,0];
const predGrandelliHi = [
  19.6,19.5,19.4,19.5,19.4,19.5,19.4,19.2,19.2,19.5, 18.8,18.9,18.9,18.9,18.9,19.0,19.2,19.3,18.7,19.3,
  19.1,19.5,15.2,15.1,15.2,15.6,16.2,16.5,16.2,16.7, 17.2,17.2,17.0,16.9,17.0,17.6,18.5,
  18.5,17.8,17.7,17.3,17.7,18.5,17.9,18.2,17.0,17.1, 17.1,17.1,17.7,18.1,17.5,17.8,17.7,18.0,18.1,17.8,
  17.3,17.8,17.9,18.2,18.5,18.5,18.5,18.7,18.4,19.0, 19.0,18.8,18.5,19.4,18.9,18.9,18.9,
  26.3,21.7,14.8,12.4,10.7,9.4,8.6,7.4,6.9,5.8, 5.5,5.5,5.6,5.1,5.0,4.8,4.6,4.3,4.4,4.0,
  3.9,3.8,3.6,3.2,3.1,2.9,2.7,2.4,2.1,2.0, 1.7,1.5,1.3,1.0,0.4,0.05,0];
const predGrandelliLo = [
  8.3,8.1,8.0,8.4,7.4,8.1,7.6,7.9,7.9,7.6, 7.4,7.7,7.7,7.9,8.3,8.3,7.9,8.1,7.9,8.3,
  8.1,9.0,-0.2,-0.4,-0.2,0.05,0.6,1.1,1.1,1.7, 2.2,2.5,2.5,2.6,2.8,3.2,6.3,
  6.3,4.3,4.2,4.0,4.0,4.4,4.6,4.7,4.4,4.8, 4.6,4.3,5.3,5.5,5.1,5.0,5.1,5.4,5.5,5.4,
  5.4,5.7,5.8,6.1,6.6,7.0,7.2,7.4,7.7,8.1, 8.5,8.3,8.4,8.8,9.0,8.8,8.3,
  15.1,11.3,6.3,5.0,4.3,3.4,3.3,2.8,2.4,1.7, 1.5,1.5,1.7,1.4,1.4,1.3,1.3,1.1,1.1,0.8,
  0.8,0.7,0.6,0.4,0.3,0.3,0.2,0.15,0.1,0.1, 0.1,0.05,0.05,0,0,0,0];

const daviesSolid = [daviesU4, daviesU9, daviesU14, daviesU19, daviesU24, daviesU29, daviesU34, daviesU39];
const daviesLow = [daviesU4Lo, daviesU9Lo, daviesU14Lo, daviesU19Lo, daviesU24Lo, daviesU29Lo, daviesU34Lo, daviesU39Lo];
const grandelliSolid = [grandelliU4, grandelliU9, grandelliU14, grandelliU19, grandelliU24, grandelliU29, grandelliU34, grandelliU39];
const grandelliLow = [grandelliU4Lo, grandelliU9Lo, grandelliU14Lo, grandelliU19Lo, grandelliU24Lo, grandelliU29Lo, grandelliU34Lo, grandelliU39Lo];

function drawChart() {
  const dimensions = {
    width: 2100,
    height: 1500,
    left: 92.4,
    right: 2077,
    panels: [
      { top: 50.9, bottom: 518.3 },
      { top: 578.5, bottom: 1046 },
      { top: 1106, bottom: 1419.6 },
    ],
  };

  const svg = d3.select("#wrapper").append("svg")
    .attr("width", dimensions.width)
    .attr("height", dimensions.height);
  svg.append("rect").attr("width", dimensions.width).attr("height", dimensions.height).attr("fill", "#fff");

  const xScale = d3.scaleLinear().domain([513, 1107]).range([dimensions.left, dimensions.right]);
  const defs = svg.append("defs");

  function addClip(id, box) {
    defs.append("clipPath").attr("id", id).append("rect")
      .attr("x", dimensions.left).attr("y", box.top)
      .attr("width", dimensions.right - dimensions.left).attr("height", box.bottom - box.top);
  }

  function drawRoundLines(box, labelOffset) {
    const g = svg.append("g");
    g.selectAll("line").data(roundStarts).join("line")
      .attr("x1", d => xScale(d)).attr("x2", d => xScale(d))
      .attr("y1", box.top).attr("y2", box.bottom)
      .attr("stroke", "#555").attr("stroke-opacity", 0.8)
      .attr("stroke-width", 1).attr("stroke-dasharray", "1.2,2.3");
    g.selectAll("text").data(roundStarts).join("text")
      .attr("x", d => xScale(d) + 7).attr("y", box.top + labelOffset)
      .attr("dominant-baseline", "middle")
      .attr("font-size", 15).attr("fill", "#666")
      .text((d, i) => roundLabels[i]);
  }

  function drawXAxis(box, withLabels) {
    const axis = d3.axisBottom(xScale).tickValues(timeTicks).tickSize(5).tickPadding(4)
      .tickFormat(withLabels ? d3.format("d") : "");
    const g = svg.append("g").attr("transform", `translate(0,${box.bottom})`).call(axis);
    g.select(".domain").remove();
    g.selectAll("line").attr("stroke", "#222").attr("stroke-width", 1.2);
    g.selectAll("text").attr("font-size", 13.3).attr("fill", "#222").attr("font-family", "DejaVu Sans");
  }

  function drawFrame(box) {
    svg.append("rect")
      .attr("x", dimensions.left).attr("y", box.top)
      .attr("width", dimensions.right - dimensions.left).attr("height", box.bottom - box.top)
      .attr("fill", "none").attr("stroke", "#222").attr("stroke-width", 1.4);
  }

  function drawProbPanel(box, titleText, solids, lows, clipId) {
    const yScale = d3.scaleLinear().domain([0, 1.15]).range([box.bottom, box.top]);

    svg.append("g").selectAll("line").data(probTicks).join("line")
      .attr("x1", dimensions.left).attr("x2", dimensions.right)
      .attr("y1", d => yScale(d)).attr("y2", d => yScale(d))
      .attr("stroke", "#e3e3e3").attr("stroke-width", 1);

    addClip(clipId, box);
    const bounds = svg.append("g").attr("clip-path", `url(#${clipId})`);

    solids.forEach((vals, i) => {
      const lowVals = lows[i];
      const areaGenerator = d3.area()
        .x((d, j) => xScale(times[j]))
        .y0((d, j) => yScale(lowVals[j]))
        .y1(d => yScale(d));
      const lineGenerator = d3.line()
        .x((d, j) => xScale(times[j]))
        .y(d => yScale(d));

      bounds.append("path")
        .attr("d", areaGenerator(vals))
        .attr("fill", seriesColors[i]).attr("fill-opacity", 0.1);
      bounds.append("path")
        .attr("d", lineGenerator(vals))
        .attr("fill", "none").attr("stroke", seriesColors[i])
        .attr("stroke-opacity", 0.85).attr("stroke-width", 2)
        .attr("stroke-linejoin", "round");
      bounds.append("path")
        .attr("d", lineGenerator(lowVals))
        .attr("fill", "none").attr("stroke", seriesColors[i])
        .attr("stroke-opacity", 0.6).attr("stroke-width", 1.2)
        .attr("stroke-dasharray", "1.3,2");
    });

    drawRoundLines(box, 25);

    const yAxis = d3.axisLeft(yScale).tickValues(probTicks).tickFormat(d3.format(".2f")).tickSize(5).tickPadding(3.5);
    const yAxisGroup = svg.append("g").attr("transform", `translate(${dimensions.left},0)`).call(yAxis);
    yAxisGroup.select(".domain").remove();
    yAxisGroup.selectAll("line").attr("stroke", "#222").attr("stroke-width", 1.2);
    yAxisGroup.selectAll("text").attr("font-size", 13.3).attr("fill", "#222").attr("font-family", "DejaVu Sans");

    drawXAxis(box, false);
    drawFrame(box);

    svg.append("text")
      .attr("x", (dimensions.left + dimensions.right) / 2).attr("y", box.top - 18)
      .attr("text-anchor", "middle").attr("dominant-baseline", "middle")
      .attr("font-size", 21).attr("fill", "#111")
      .text(titleText);

    svg.append("text")
      .attr("transform", `translate(28,${(box.top + box.bottom) / 2}) rotate(-90)`)
      .attr("text-anchor", "middle").attr("dominant-baseline", "middle")
      .attr("font-size", 13.3).attr("fill", "#111")
      .text("Prob");

    // legend: 4 columns x 2 rows
    const legend = svg.append("g").attr("transform", `translate(1581,${box.top + 7})`);
    legend.append("rect")
      .attr("width", 490).attr("height", 40).attr("rx", 3)
      .attr("fill", "#fff").attr("fill-opacity", 0.8)
      .attr("stroke", "#ccc").attr("stroke-width", 1);
    const colX = [4, 125, 253, 382];
    thresholds.forEach((label, i) => {
      const col = Math.floor(i / 2);
      const row = i % 2;
      const item = legend.append("g").attr("transform", `translate(${colX[col]},${11 + row * 19.5})`);
      item.append("line").attr("x1", 0).attr("x2", 27).attr("y1", 0).attr("y2", 0)
        .attr("stroke", seriesColors[i]).attr("stroke-opacity", 0.85).attr("stroke-width", 2);
      item.append("text").attr("x", 36).attr("y", 0).attr("dominant-baseline", "middle")
        .attr("font-size", 12).attr("fill", "#111").text(label);
    });
  }

  drawProbPanel(dimensions.panels[0], "LIAM DAVIES \u2014 Jab Strikes Thrown R6 Under Leadup (R4-R6) (Event 16277)", daviesSolid, daviesLow, "clipTop");
  drawProbPanel(dimensions.panels[1], "FRANCESCO GRANDELLI \u2014 Jab Strikes Thrown R6 Under Leadup (R4-R6) (Event 16277)", grandelliSolid, grandelliLow, "clipMid");

  // ---- count panel
  const box = dimensions.panels[2];
  const yCount = d3.scaleLinear().domain([-2.8, 48.5]).range([box.bottom, box.top]);

  svg.append("g").selectAll("line").data(countMinorTicks).join("line")
    .attr("x1", dimensions.left).attr("x2", dimensions.right)
    .attr("y1", d => yCount(d)).attr("y2", d => yCount(d))
    .attr("stroke", "#efefef").attr("stroke-width", 1);
  svg.append("g").selectAll("line").data(countTicks).join("line")
    .attr("x1", dimensions.left).attr("x2", dimensions.right)
    .attr("y1", d => yCount(d)).attr("y2", d => yCount(d))
    .attr("stroke", "#dedede").attr("stroke-width", 1);

  addClip("clipBottom", box);
  const bounds = svg.append("g").attr("clip-path", "url(#clipBottom)");

  const bandGenerator = (hi, lo) => d3.area()
    .x((d, j) => xScale(times[j]))
    .y0((d, j) => yCount(lo[j]))
    .y1((d, j) => yCount(hi[j]));
  const countLine = d3.line().x((d, j) => xScale(times[j])).y(d => yCount(d));

  bounds.append("path").attr("d", bandGenerator(predDaviesHi, predDaviesLo)(times))
    .attr("fill", "#ff0000").attr("fill-opacity", 0.14)
    .attr("stroke", "#ff0000").attr("stroke-opacity", 0.14).attr("stroke-width", 1.2);
  bounds.append("path").attr("d", bandGenerator(predGrandelliHi, predGrandelliLo)(times))
    .attr("fill", "#0000ff").attr("fill-opacity", 0.14)
    .attr("stroke", "#0000ff").attr("stroke-opacity", 0.14).attr("stroke-width", 1.2);

  bounds.append("path").attr("d", countLine(truthDavies))
    .attr("fill", "none").attr("stroke", "#ff0000").attr("stroke-opacity", 0.72).attr("stroke-width", 3);
  bounds.append("path").attr("d", countLine(truthGrandelli))
    .attr("fill", "none").attr("stroke", "#0000ff").attr("stroke-opacity", 0.72).attr("stroke-width", 3);
  bounds.append("path").attr("d", countLine(predDavies))
    .attr("fill", "none").attr("stroke", "#ff0000").attr("stroke-opacity", 0.55)
    .attr("stroke-width", 3).attr("stroke-dasharray", "3,4.5");
  bounds.append("path").attr("d", countLine(predGrandelli))
    .attr("fill", "none").attr("stroke", "#0000ff").attr("stroke-opacity", 0.55)
    .attr("stroke-width", 3).attr("stroke-dasharray", "3,4.5");

  drawRoundLines(box, 18);

  const yAxisCount = d3.axisLeft(yCount).tickValues(countTicks).tickSize(5).tickPadding(3.5);
  const yAxisCountGroup = svg.append("g").attr("transform", `translate(${dimensions.left},0)`).call(yAxisCount);
  yAxisCountGroup.select(".domain").remove();
  yAxisCountGroup.selectAll("line").attr("stroke", "#222").attr("stroke-width", 1.2);
  yAxisCountGroup.selectAll("text").attr("font-size", 13.3).attr("fill", "#222").attr("font-family", "DejaVu Sans");

  drawXAxis(box, true);
  drawFrame(box);

  svg.append("text")
    .attr("transform", `translate(40,${(box.top + box.bottom) / 2}) rotate(-90)`)
    .attr("text-anchor", "middle").attr("dominant-baseline", "middle")
    .attr("font-size", 16.5).attr("fill", "#111")
    .text("Count");
  svg.append("text")
    .attr("x", (dimensions.left + dimensions.right) / 2).attr("y", 1466)
    .attr("text-anchor", "middle").attr("dominant-baseline", "middle")
    .attr("font-size", 20.8).attr("fill", "#111")
    .text("Fight time (seconds)");

  // legend of the count panel
  const legendItems = [
    { label: "Truth LIAM DAVIES: 25", color: "#ff0000", dash: null, opacity: 0.72 },
    { label: "Truth FRANCESCO GRANDELLI: 0", color: "#0000ff", dash: null, opacity: 0.72 },
    { label: "Predicted LIAM DAVIES: 38.0", color: "#ff0000", dash: "3,4.5", opacity: 0.55 },
    { label: "Predicted FRANCESCO GRANDELLI: 20.6", color: "#0000ff", dash: "3,4.5", opacity: 0.55 },
  ];
  const legend = svg.append("g").attr("transform", `translate(100,${box.top + 7})`);
  legend.append("rect")
    .attr("width", 343).attr("height", 84).attr("rx", 3)
    .attr("fill", "#fff").attr("fill-opacity", 0.8)
    .attr("stroke", "#ccc").attr("stroke-width", 1);
  legendItems.forEach((d, i) => {
    const item = legend.append("g").attr("transform", `translate(6,${14 + i * 20})`);
    item.append("line").attr("x1", 0).attr("x2", 30).attr("y1", 0).attr("y2", 0)
      .attr("stroke", d.color).attr("stroke-opacity", d.opacity).attr("stroke-width", 3)
      .attr("stroke-dasharray", d.dash);
    item.append("text").attr("x", 41).attr("y", 0).attr("dominant-baseline", "middle")
      .attr("font-size", 14.3).attr("fill", "#111").text(d.label);
  });
}

drawChart();
</script>
</body>
</html>
